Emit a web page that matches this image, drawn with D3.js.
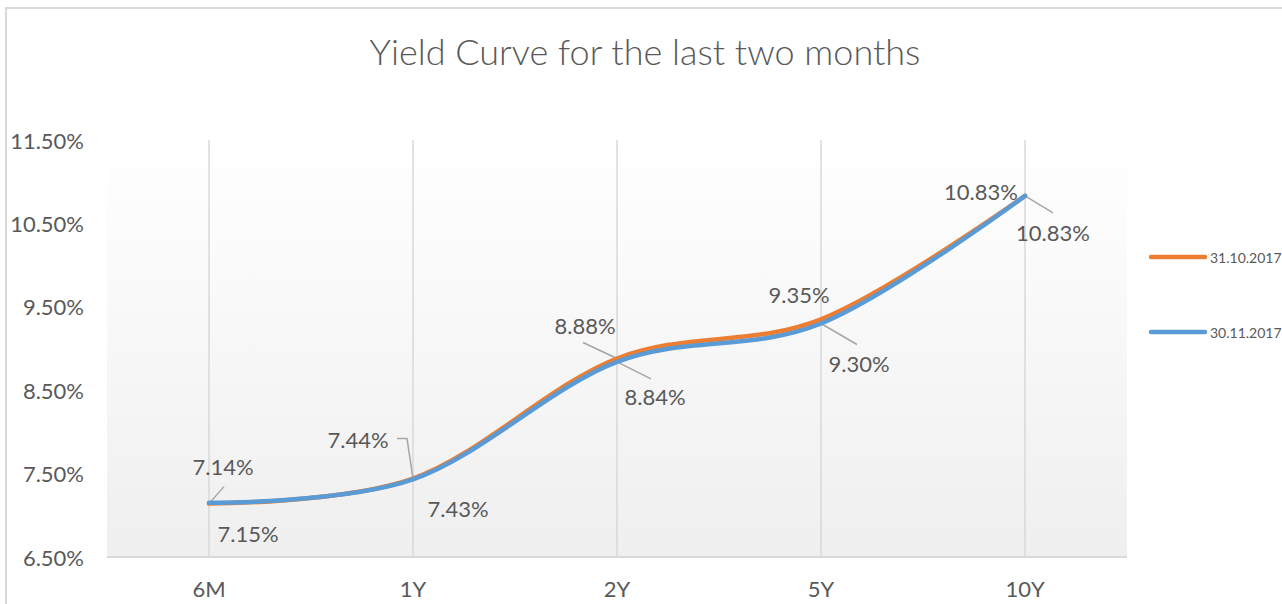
<!DOCTYPE html>
<html><head><meta charset="utf-8">
<script src="https://cdn.jsdelivr.net/npm/d3@7"></script>
<style>html,body{margin:0;padding:0;background:#fff;overflow:hidden}svg{display:block}text{font-family:Lato,"Open Sans",sans-serif;fill:#595959}</style>
</head><body><svg id="c" width="1282" height="604"></svg>
<script>
const categories = ["6M","1Y","2Y","5Y","10Y"];
const seriesNames = ["31.10.2017","30.11.2017"];
const oct = [7.14, 7.44, 8.88, 9.35, 10.83];
const nov = [7.15, 7.43, 8.84, 9.30, 10.83];
const yTicks = [6.5, 7.5, 8.5, 9.5, 10.5, 11.5];
const colors = ["#ED7D31", "#5B9BD5"];

// label layout offsets (text centre relative to point)
const octLabelOff = [[14,-37],[-55,-39],[-32,-33],[-22,-25],[-44,-4]];
const novLabelOff = [[39,31],[45,29],[38,35],[38,40],[28,37]];

const svg = d3.select("#c");
const W = 1282, H = 604;
const m = {l:107, r:1127, t:140, b:557};

// frame
svg.append("rect").attr("x",6).attr("y",8).attr("width",W).attr("height",H)
  .attr("fill","#fff").attr("stroke","#d9d9d9").attr("stroke-width",2);

const defs = svg.append("defs");
const g = defs.append("linearGradient").attr("id","bg").attr("x1",0).attr("y1",0).attr("x2",0).attr("y2",1);
g.append("stop").attr("offset","0%").attr("stop-color","#ffffff");
g.append("stop").attr("offset","100%").attr("stop-color","#efefef");

const x = d3.scalePoint().domain(categories).range([m.l, m.r]).padding(0.5);
const y = d3.scaleLinear().domain([6.5, 11.5]).range([m.b, m.t]);

svg.append("rect").attr("x",m.l).attr("y",m.t).attr("width",m.r-m.l).attr("height",m.b-m.t).attr("fill","url(#bg)");

// title
svg.append("text").attr("x",645).attr("y",51).attr("text-anchor","middle").attr("dominant-baseline","central")
  .style("font-size","36px").style("font-weight","300").text("Yield Curve for the last two months");

// vertical gridlines
svg.append("g").selectAll("line").data(categories).join("line")
  .attr("x1",d=>x(d)).attr("x2",d=>x(d)).attr("y1",m.t).attr("y2",m.b)
  .attr("stroke","#d9d9d9").attr("stroke-width",1.5);

// x axis line
svg.append("line").attr("x1",m.l).attr("x2",m.r).attr("y1",m.b).attr("y2",m.b).attr("stroke","#d9d9d9").attr("stroke-width",2);

// x labels
svg.append("g").selectAll("text").data(categories).join("text")
  .attr("x",d=>x(d)).attr("y",588).attr("text-anchor","middle").attr("dominant-baseline","central")
  .style("font-size","22px").text(d=>d);

// y labels
svg.append("g").selectAll("text").data(yTicks).join("text")
  .attr("x",84).attr("y",d=>y(d)).attr("text-anchor","end").attr("dominant-baseline","central")
  .style("font-size","22px").text(d=>d.toFixed(2)+"%");

const line = d3.line().x((d,i)=>x(categories[i])).y(d=>y(d)).curve(d3.curveCardinal.tension(0));

// leader lines
const leaders = svg.append("g").attr("stroke","#a6a6a6").attr("stroke-width",1.5).attr("fill","none");
const pOct = oct.map((v,i)=>[x(categories[i]), y(v)]);
const pNov = nov.map((v,i)=>[x(categories[i]), y(v)]);
leaders.append("path").attr("d", d3.line()([pOct[0], [pOct[0][0]+15, pOct[0][1]-17]]));
leaders.append("path").attr("d", d3.line()([[pOct[1][0]-16, pOct[1][1]-40],[pOct[1][0]-6, pOct[1][1]-40], pOct[1]]));
leaders.append("path").attr("d", d3.line()([[pOct[2][0]-34, pOct[2][1]-16], pOct[2]]));
leaders.append("path").attr("d", d3.line()([pNov[2], [pNov[2][0]+34, pNov[2][1]+17]]));
leaders.append("path").attr("d", d3.line()([pNov[3], [pNov[3][0]+36, pNov[3][1]+21]]));
leaders.append("path").attr("d", d3.line()([pNov[4], [pNov[4][0]+28, pNov[4][1]+17]]));

// series
[oct, nov].forEach((s,k)=>{
  svg.append("path").datum(s).attr("d",line).attr("fill","none")
    .attr("stroke",colors[k]).attr("stroke-width",4.5).attr("stroke-linecap","round");
});

// data labels
const lbl = svg.append("g");
oct.forEach((v,i)=>{
  lbl.append("text").attr("x",pOct[i][0]+octLabelOff[i][0]).attr("y",pOct[i][1]+octLabelOff[i][1])
    .attr("text-anchor","middle").attr("dominant-baseline","central").style("font-size","22px").text(v.toFixed(2)+"%");
});
nov.forEach((v,i)=>{
  lbl.append("text").attr("x",pNov[i][0]+novLabelOff[i][0]).attr("y",pNov[i][1]+novLabelOff[i][1])
    .attr("text-anchor","middle").attr("dominant-baseline","central").style("font-size","22px").text(v.toFixed(2)+"%");
});

// legend
const leg = svg.append("g");
[257, 332].forEach((ly,k)=>{
  leg.append("line").attr("x1",1151).attr("x2",1205).attr("y1",ly).attr("y2",ly)
    .attr("stroke",colors[k]).attr("stroke-width",4.5).attr("stroke-linecap","round");
  leg.append("text").attr("x",1210).attr("y",ly).attr("dominant-baseline","central")
    .style("font-size","14px").text(seriesNames[k]);
});
</script></body></html>
